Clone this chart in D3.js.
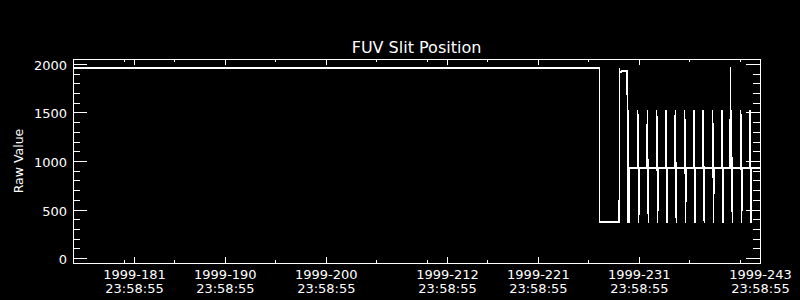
<!DOCTYPE html>
<html>
<head>
<meta charset="utf-8">
<script src="https://cdn.jsdelivr.net/npm/d3@7"></script>
<style>
  body { margin: 0; background: #000; }
  svg { display: block; background: #000; }
  text { font-family: "DejaVu Sans", sans-serif; fill: #fff; }
</style>
</head>
<body>
<div id="chart-container"></div>
<script>

// time in fractional day of year 1999, slit position raw value
var dayOfYear = [
  175.96, 228.08, 228.09, 230.06, 230.07, 230.10, 230.11, 230.30, 230.32, 230.85,
  230.87, 230.92, 231.02, 231.05,
  231.87, 231.89, 231.99, 232.01,
  232.82, 232.84, 232.94, 232.96,
  233.75, 233.77, 233.87, 233.89,
  234.68, 234.70, 234.80, 234.82,
  235.59, 235.61, 235.71, 235.73,
  236.52, 236.54, 236.64, 236.66,
  237.44, 237.46, 237.56, 237.58,
  238.36, 238.38, 238.48, 238.50,
  239.29, 239.31, 239.41, 239.43,
  240.21, 240.23, 240.33, 240.35,
  241.05, 241.06, 241.07,
  241.14, 241.16, 241.26, 241.28,
  242.07, 242.09, 242.19, 242.21,
  242.99, 243.01, 243.11, 243.13,
  243.999
];

var rawValue = [
  1955, 1955, 370, 370, 1945, 1945, 1918, 1918, 1928, 1928,
  365, 1520, 365, 930,
  930, 1520, 365, 930,
  930, 1520, 365, 930,
  930, 1520, 365, 930,
  930, 1520, 365, 930,
  930, 1520, 365, 930,
  930, 1520, 365, 930,
  930, 1520, 365, 930,
  930, 1520, 365, 930,
  930, 1520, 365, 930,
  930, 1520, 365, 930,
  930, 1970, 930,
  930, 1520, 365, 930,
  930, 1520, 365, 930,
  930, 1520, 365, 930,
  930
];

var tickYear = "1999";
var tickTime = "23:58:55";
var timeOfDay = 0.99925;          // 23:58:55 as fraction of a day
var majorTickDays = [181, 190, 200, 212, 221, 231, 243];
var minorTickDays = [175, 180, 185, 195, 205, 210, 216, 226, 236, 241];
var yMajorTicks = [0, 500, 1000, 1500, 2000];
var yMinorTicks = [100, 200, 300, 400, 600, 700, 800, 900, 1100, 1200, 1300, 1400, 1600, 1700, 1800, 1900];

var margin = {top: 59, right: 40, bottom: 37, left: 73}
  , width = 800 - margin.left - margin.right
  , height = 300 - margin.top - margin.bottom;

var x = d3.scaleLinear()
    .domain([175.96, 243.999])
    .range([0, width]);

var y = d3.scaleLinear()
    .domain([-50, 2050])
    .range([height, 0]);

var majorPos = majorTickDays.map(function(d) { return d + timeOfDay; });
var minorPos = minorTickDays.map(function(d) { return d + timeOfDay; });

var chart = d3.select('#chart-container')
    .append('svg')
    .attr('width', 800)
    .attr('height', 300);

chart.append('text')
    .attr('x', margin.left + width / 2)
    .attr('y', 53)
    .attr('text-anchor', 'middle')
    .style('font-size', '16px')
    .text('FUV Slit Position');

chart.append('text')
    .attr('transform', 'translate(23,161) rotate(-90)')
    .attr('text-anchor', 'middle')
    .style('font-size', '12.5px')
    .text('Raw Value');

var main = chart.append('g')
    .attr('transform', 'translate(' + margin.left + ',' + margin.top + ')');

main.append('clipPath')
    .attr('id', 'plot-clip')
  .append('rect')
    .attr('x', 0)
    .attr('y', 0)
    .attr('width', width + 1)
    .attr('height', height + 1);

// helper for one set of ticks
function drawAxis(axis, tx, ty) {
  var g = main.append('g')
      .attr('transform', 'translate(' + tx + ',' + ty + ')')
      .style('color', '#fff')
      .attr('shape-rendering', 'crispEdges')
      .call(axis);
  g.select('.domain').remove();
  return g;
}

// x axes
var bottomAxis = drawAxis(d3.axisBottom(x).tickValues(majorPos).tickSize(-6).tickSizeOuter(0)
    .tickFormat(function(d, i) { return tickYear + '-' + majorTickDays[i]; }), 0, height);
bottomAxis.attr('font-family', 'DejaVu Sans').attr('font-size', 13);
bottomAxis.selectAll('.tick text').each(function(d, i) {
  var t = d3.select(this);
  t.text(null).attr('y', null).attr('dy', null).attr('fill', '#fff');
  t.append('tspan').attr('x', 0).attr('y', 15.5).text(tickYear + '-' + majorTickDays[i]);
  t.append('tspan').attr('x', 0).attr('y', 29.5).text(tickTime);
});
drawAxis(d3.axisBottom(x).tickValues(minorPos).tickSize(-3).tickSizeOuter(0).tickFormat(''), 0, height);
drawAxis(d3.axisTop(x).tickValues(majorPos).tickSize(-6).tickSizeOuter(0).tickFormat(''), 0, 0);
drawAxis(d3.axisTop(x).tickValues(minorPos).tickSize(-3).tickSizeOuter(0).tickFormat(''), 0, 0);

// y axes
var leftAxis = drawAxis(d3.axisLeft(y).tickValues(yMajorTicks).tickSize(-14).tickSizeOuter(0)
    .tickPadding(6).tickFormat(d3.format('d')), 0, 0);
leftAxis.attr('font-family', 'DejaVu Sans').attr('font-size', 13);
leftAxis.selectAll('.tick text').attr('dy', '0.42em').attr('fill', '#fff');
drawAxis(d3.axisLeft(y).tickValues(yMinorTicks).tickSize(-7).tickSizeOuter(0).tickFormat(''), 0, 0);
drawAxis(d3.axisRight(y).tickValues(yMajorTicks).tickSize(-14).tickSizeOuter(0).tickFormat(''), width, 0);
drawAxis(d3.axisRight(y).tickValues(yMinorTicks).tickSize(-7).tickSizeOuter(0).tickFormat(''), width, 0);

// frame
main.append('rect')
    .attr('x', 0.5)
    .attr('y', 0.5)
    .attr('width', width)
    .attr('height', height)
    .attr('fill', 'none')
    .attr('stroke', '#fff')
    .attr('shape-rendering', 'crispEdges');

var line = d3.line()
    .x(function(d, i) { return x(dayOfYear[i]); })
    .y(function(d, i) { return y(rawValue[i]); });

main.append('path')
    .datum(rawValue)
    .attr('clip-path', 'url(#plot-clip)')
    .attr('d', line)
    .attr('fill', 'none')
    .attr('stroke', '#fff')
    .attr('stroke-width', 1.5)
    .attr('shape-rendering', 'crispEdges');

</script>
</body>
</html>
